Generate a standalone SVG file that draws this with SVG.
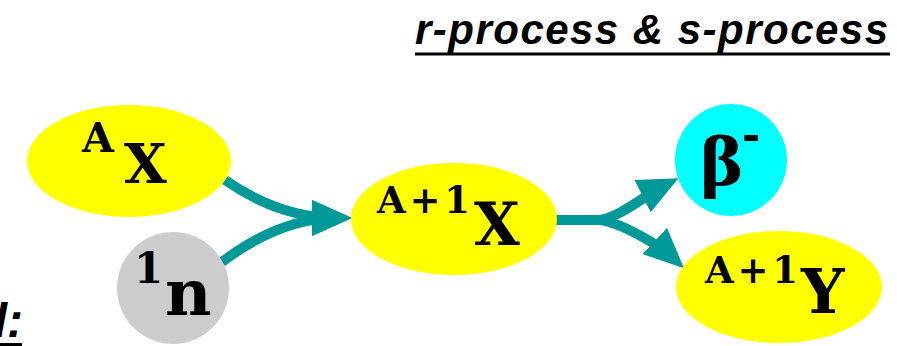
<svg xmlns="http://www.w3.org/2000/svg" width="897" height="346" viewBox="0 0 897 346">
<style>
.mono{font-family:"DejaVu Serif",serif;font-weight:bold;fill:#000}
.title{font-family:"Liberation Sans",Arial,sans-serif;font-weight:bold;font-style:italic;fill:#000}
.conn{fill:none;stroke:#009999;stroke-width:10}
</style>
<defs>
<marker id="ah" markerUnits="userSpaceOnUse" viewBox="0 0 40 36" markerWidth="40" markerHeight="36" refX="25" refY="18" orient="auto">
<path d="M0,0 L40,18 L0,36 Z" fill="#009999"/>
</marker>
</defs>
<rect width="897" height="346" fill="#fff"/>
<g id="title">
<text class="title" x="415" y="44" font-size="42" textLength="473" lengthAdjust="spacing">r-process &amp; s-process</text>
<line x1="415" y1="54" x2="890" y2="54" stroke="#000" stroke-width="3"/>
</g>
<g id="label-left">
<text class="title" x="23" y="337" font-size="48" text-anchor="end">d:</text>
<line x1="0" y1="344.5" x2="22" y2="344.5" stroke="#000" stroke-width="3"/>
</g>
<g id="connectors">
<path class="conn" d="M225,180 Q280,218 337,218" marker-end="url(#ah)"/>
<path class="conn" d="M222,262 Q280,218 337,218" marker-end="url(#ah)"/>
<path class="conn" d="M555,220 L598,220 C618,219 647,194 665,185" marker-end="url(#ah)"/>
<path class="conn" d="M598,220 C618,221 658,244 673,258" marker-end="url(#ah)"/>
</g>
<g id="node-AX">
<ellipse cx="129" cy="161" rx="102" ry="56" fill="#ffff00"/>
<text class="mono" x="82" y="152" font-size="41">A</text>
<text class="mono" x="124" y="183" font-size="55">X</text>
</g>
<g id="node-n">
<circle cx="173" cy="288" r="56" fill="#cccccc"/>
<text class="mono" x="134" y="283" font-size="42">1</text>
<text class="mono" x="165" y="315" font-size="64">n</text>
</g>
<g id="node-A1X">
<ellipse cx="454" cy="219" rx="103" ry="56" fill="#ffff00"/>
<text class="mono" x="377" y="213" font-size="37" textLength="93" lengthAdjust="spacing">A+1</text>
<text class="mono" x="474" y="245" font-size="59">X</text>
</g>
<g id="node-beta">
<circle cx="731" cy="160" r="56" fill="#00ffff"/>
<text class="mono" x="700" y="185" font-size="66">β</text>
<text class="mono" x="742" y="150" font-size="44">-</text>
</g>
<g id="node-A1Y">
<ellipse cx="779" cy="287" rx="103" ry="56" fill="#ffff00"/>
<text class="mono" x="705" y="283" font-size="37" textLength="93" lengthAdjust="spacing">A+1</text>
<text class="mono" x="801" y="313" font-size="61">Y</text>
</g>
</svg>
